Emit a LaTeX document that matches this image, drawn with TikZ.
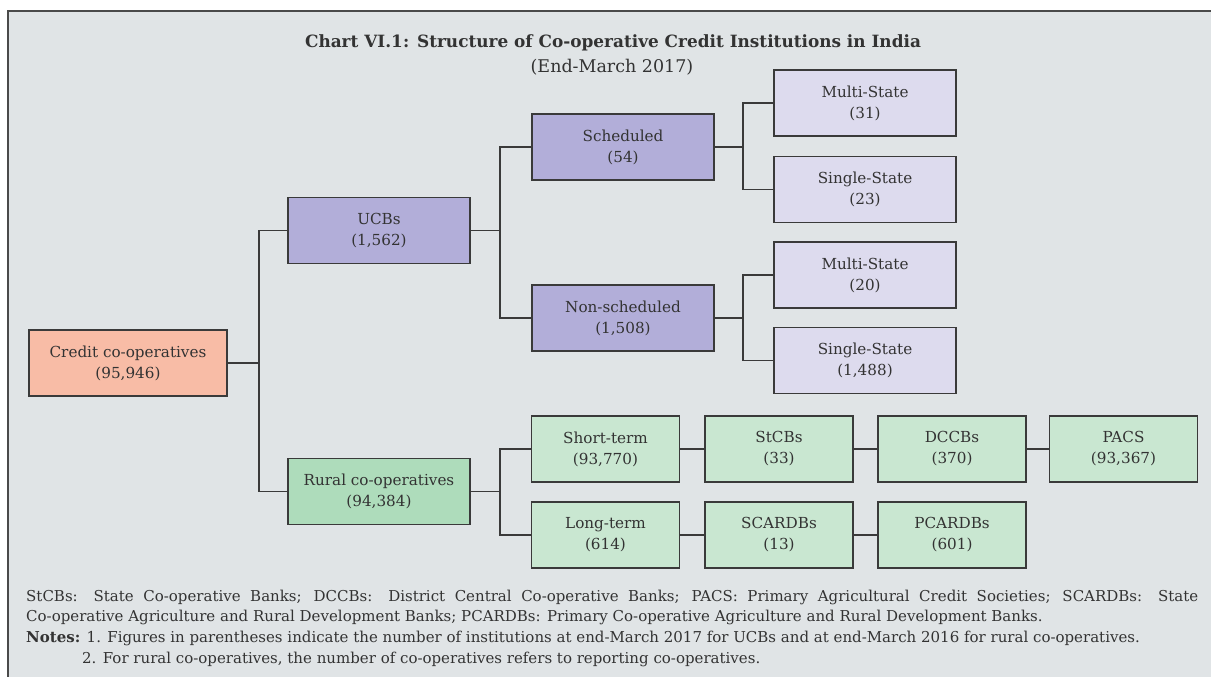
\documentclass[tikz,border=0pt]{standalone}
\usepackage{fontspec}
\setmainfont{DejaVu Serif}
\definecolor{panel}{HTML}{E0E4E6}
\definecolor{frameline}{HTML}{4A4A4A}
\definecolor{boxline}{HTML}{3A3A3A}
\definecolor{ink}{HTML}{333333}
\definecolor{salmon}{HTML}{F8BCA6}
\definecolor{ucbfill}{HTML}{B2AED9}
\definecolor{statefill}{HTML}{DDDBEE}
\definecolor{ruralfill}{HTML}{AEDCBB}
\definecolor{tierfill}{HTML}{C9E7D1}
\tikzset{
  unit/.style={draw=boxline, line width=1.3pt, align=center, inner sep=0pt,
    text=ink, font=\fontsize{15.2}{21}\selectfont, minimum height=66pt},
  widebox/.style={unit, minimum width=182pt},
  tierbox/.style={unit, minimum width=148pt},
  rootbox/.style={unit, minimum width=198pt},
  link/.style={draw=boxline, line width=1.3pt},
  note/.style={anchor=west, inner sep=0pt, text=ink, font=\fontsize{15}{17}\selectfont}
}
\begin{document}
\begin{tikzpicture}[x=1pt,y=-1pt]
\useasboundingbox (0,0) rectangle (1211,677);
\fill[white] (0,0) rectangle (1211,677);
\fill[panel] (8,11) rectangle (1211,677);
\draw[frameline, line width=1.3pt] (8,677) -- (8,11) -- (1211,11);

% heading
\node[inner sep=0pt, text=ink, font=\fontsize{16.9}{19}\selectfont\bfseries] (title) at (613,43)
  {Chart VI.1: Structure of Co-operative Credit Institutions in India};
\node[inner sep=0pt, text=ink, font=\fontsize{17.5}{19}\selectfont] (sub) at (612,67) {(End-March 2017)};

% tree nodes
\node[rootbox, fill=salmon] (credit) at (128,363) {Credit co-operatives\\(95,946)};
\node[widebox, fill=ucbfill] (ucbs) at (379,230.5) {UCBs\\(1,562)};
\node[widebox, fill=ruralfill] (rural) at (379,491.5) {Rural co-operatives\\(94,384)};
\node[widebox, fill=ucbfill] (sched) at (623,147) {Scheduled\\(54)};
\node[widebox, fill=ucbfill] (nonsched) at (623,318) {Non-scheduled\\(1,508)};
\node[widebox, fill=statefill] (ms1) at (865,103) {Multi-State\\(31)};
\node[widebox, fill=statefill] (ss1) at (865,189.5) {Single-State\\(23)};
\node[widebox, fill=statefill] (ms2) at (865,275) {Multi-State\\(20)};
\node[widebox, fill=statefill] (ss2) at (865,360.5) {Single-State\\(1,488)};
\node[tierbox, fill=tierfill] (short) at (605.5,449) {Short-term\\(93,770)};
\node[tierbox, fill=tierfill] (stcbs) at (779,449) {StCBs\\(33)};
\node[tierbox, fill=tierfill] (dccbs) at (952,449) {DCCBs\\(370)};
\node[tierbox, fill=tierfill] (pacs) at (1123.5,449) {PACS\\(93,367)};
\node[tierbox, fill=tierfill] (long) at (605.5,535) {Long-term\\(614)};
\node[tierbox, fill=tierfill] (scardbs) at (779,535) {SCARDBs\\(13)};
\node[tierbox, fill=tierfill] (pcardbs) at (952,535) {PCARDBs\\(601)};

% branch points
\coordinate (jroot) at (259,363);
\coordinate (jucb) at (500,230.5);
\coordinate (jrural) at (500,491.5);
\coordinate (jsched) at (743,147);
\coordinate (jnon) at (743,318);

% connectors
\draw[link] (credit.east) -- (jroot);
\draw[link] (jroot) |- (ucbs.west);
\draw[link] (jroot) |- (rural.west);
\draw[link] (ucbs.east) -- (jucb);
\draw[link] (jucb) |- (sched.west);
\draw[link] (jucb) |- (nonsched.west);
\draw[link] (sched.east) -- (jsched);
\draw[link] (jsched) |- (ms1.west);
\draw[link] (jsched) |- (ss1.west);
\draw[link] (nonsched.east) -- (jnon);
\draw[link] (jnon) |- (ms2.west);
\draw[link] (jnon) |- (ss2.west);
\draw[link] (rural.east) -- (jrural);
\draw[link] (jrural) |- (short.west);
\draw[link] (jrural) |- (long.west);
\draw[link] (short) -- (stcbs);
\draw[link] (stcbs) -- (dccbs);
\draw[link] (dccbs) -- (pacs);
\draw[link] (long) -- (scardbs);
\draw[link] (scardbs) -- (pcardbs);

% footnotes
\node[note] (n1) at (26,597) {\makebox[1172pt][s]{StCBs: State Co-operative Banks; DCCBs: District Central Co-operative Banks; PACS: Primary Agricultural Credit Societies; SCARDBs: State}};
\node[note] (n2) at (26,617) {Co-operative Agriculture and Rural Development Banks; PCARDBs: Primary Co-operative Agriculture and Rural Development Banks.};
\node[note] (n3) at (26,638) {\textbf{Notes:} 1. Figures in parentheses indicate the number of institutions at end-March 2017 for UCBs and at end-March 2016 for rural co-operatives.};
\node[note] (n4) at (82,659) {2. For rural co-operatives, the number of co-operatives refers to reporting co-operatives.};
\end{tikzpicture}
\end{document}
